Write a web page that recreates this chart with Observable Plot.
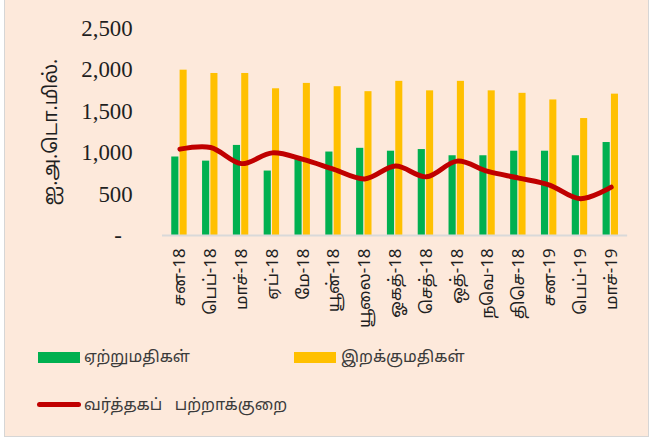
<!DOCTYPE html>
<html>
<head>
<meta charset="utf-8">
<script src="https://cdn.jsdelivr.net/npm/d3@7"></script>
<script src="https://cdn.jsdelivr.net/npm/@observablehq/plot@0.6"></script>
<style>
  html, body { margin: 0; padding: 0; background: #ffffff; width: 651px; height: 443px; overflow: hidden; }
  #frame { position: absolute; left: 4px; top: -2px; width: 645px; height: 439px; background: #FDE9DB; border: 1.5px solid #D6D6D6; box-sizing: border-box; }
  #chart { position: absolute; left: -4px; top: 2px; }
  .leg { position: absolute; font-family: "Noto Sans Tamil", "Noto Serif Tamil", "Lohit Tamil", "Latha", "Liberation Serif", serif; font-size: 16px; color: #3a3a3a; white-space: pre; line-height: 20px; }
  .sw { position: absolute; }
</style>
</head>
<body>
<div id="frame">
  <div id="chart"></div>
</div>
<script>
const months = ["சன-18","பெப்-18","மாச்-18","ஏப்-18","மே-18","யூன்-18","யூலை-18","ஓகத்-18","செத்-18","ஒத்-18","நவெ-18","திசெ-18","சன-19","பெப்-19","மாச்-19"];
const exportsVals = [950, 900, 1090, 780, 925, 1010, 1055, 1020, 1040, 965, 965, 1020, 1020, 965, 1125];
const importsVals = [2000, 1960, 1960, 1775, 1840, 1800, 1740, 1865, 1750, 1865, 1750, 1720, 1640, 1415, 1710];
const deficitVals = [1045, 1065, 870, 1000, 920, 800, 685, 840, 710, 900, 775, 695, 610, 445, 585];
const yTicks = [0, 500, 1000, 1500, 2000, 2500];
const seriesNames = ["ஏற்றுமதிகள்", "இறக்குமதிகள்", "வர்த்தகப்   பற்றாக்குறை"];
const yTitle = "ஐ.அ.டொ.மில்.";
const colors = ["#00B050", "#FFC000", "#C00000"];

const rows = months.map((m, i) => ({month: m, exp: exportsVals[i], imp: importsVals[i], def: deficitVals[i]}));
const tamilFont = '"Noto Sans Tamil", "Noto Serif Tamil", "Lohit Tamil", "Latha", "Liberation Serif", serif';

const chart = Plot.plot({
  width: 651,
  height: 330,
  marginLeft: 162,
  marginRight: 21,
  marginTop: 27.5,
  marginBottom: 94.5,
  style: {background: "transparent", color: "#1f1f1f", overflow: "visible"},
  x: {type: "band", domain: months, padding: 0},
  y: {domain: [0, 2500]},
  marks: [
    Plot.barY(rows, {x: "month", y: "exp", fill: colors[0], insetLeft: 7.3, insetRight: 16.5}),
    Plot.barY(rows, {x: "month", y: "imp", fill: colors[1], insetLeft: 15.7, insetRight: 8.2}),
    Plot.ruleY([0], {stroke: "#D9D9D9", strokeWidth: 2}),
    Plot.line(rows, {x: "month", y: "def", stroke: colors[2], strokeWidth: 5, curve: "catmull-rom", strokeLinecap: "round", strokeLinejoin: "round"}),
    Plot.axisY({ticks: yTicks, tickSize: 0, tickPadding: 30, fontSize: 23, fontFamily: "Liberation Serif",
      tickFormat: d => d === 0 ? "-" : d3.format(",")(d),
      label: yTitle, labelAnchor: "center", labelOffset: 120, labelArrow: false}),
    Plot.axisX({tickSize: 0, tickPadding: 13, tickRotate: -90, fontSize: 17, fontFamily: tamilFont, label: null})
  ]
});
document.getElementById("chart").appendChild(chart);

// Accounting-style dash for zero, shifted left like the original
d3.select(chart).selectAll("text").filter(function() { return this.textContent === "-"; }).attr("dx", -11);
// y-axis title font
d3.select(chart).selectAll("[aria-label='y-axis label'] text, [aria-label='y-axis label']")
  .attr("font-family", tamilFont).attr("font-size", 19.5);

// Legend (below the plot)
const frame = document.getElementById("frame");
function addSwatch(left, top, w, h, color, radius) {
  const d = document.createElement("div");
  d.className = "sw";
  Object.assign(d.style, {left: (left - 4) + "px", top: (top + 2) + "px", width: w + "px", height: h + "px", background: color, borderRadius: radius + "px"});
  frame.appendChild(d);
}
function addText(left, top, txt) {
  const d = document.createElement("div");
  d.className = "leg";
  d.textContent = txt;
  Object.assign(d.style, {left: (left - 4) + "px", top: (top + 2) + "px"});
  frame.appendChild(d);
}
addSwatch(37, 351, 42, 11, colors[0], 0);
addText(83, 346.5, seriesNames[0]);
addSwatch(293, 351, 42, 11, colors[1], 0);
addText(340, 346.5, seriesNames[1]);
addSwatch(36, 400.5, 44, 5, colors[2], 3);
addText(83, 394.5, seriesNames[2]);
</script>
</body>
</html>
